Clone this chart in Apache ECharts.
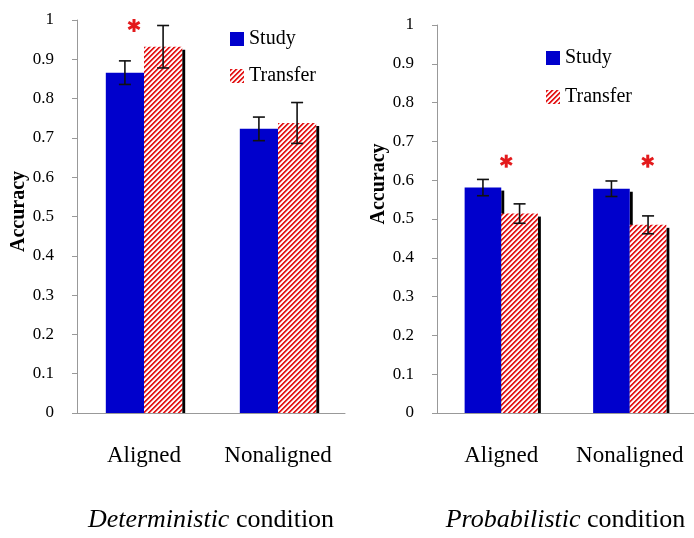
<!DOCTYPE html>
<html>
<head>
<meta charset="utf-8">
<script src="https://cdn.jsdelivr.net/npm/echarts@6/dist/echarts.min.js"></script>
<style>
html, body { margin: 0; padding: 0; background: #fff; }
#chart { width: 694px; height: 538px; }
</style>
</head>
<body>
<div id="chart"></div>
<script>
// categories and values
var categories = ['Aligned', 'Nonaligned'];

var detStudy = [0.866, 0.723];
var detStudyErr = [0.030, 0.030];
var detTransfer = [0.932, 0.738];
var detTransferErr = [0.054, 0.052];

var probStudy = [0.581, 0.578];
var probStudyErr = [0.021, 0.020];
var probTransfer = [0.514, 0.485];
var probTransferErr = [0.025, 0.023];

// significance asterisks: [category index, height]
var detStars = [[0, 0.986]];
var probStars = [[0, 0.649], [1, 0.649]];

var BLUE = '#0000CC';
var RED = '#E31A1C';
var BAR_FRAC = 0.285;
var FONT = 'Liberation Serif';

// red/white diagonal hatch
function makeHatch() {
    var c = document.createElement('canvas');
    c.width = 10; c.height = 10;
    var ctx = c.getContext('2d');
    var cols = [RED, RED, '#f3a3a3', '#ffffff', '#fde4e4'];
    for (var x = 0; x < 10; x++) {
        for (var y = 0; y < 10; y++) {
            ctx.fillStyle = cols[(x + y) % 5];
            ctx.fillRect(x, y, 1, 1);
        }
    }
    return c;
}
var hatch = { image: makeHatch(), repeat: 'repeat' };

function barX(api, slot) {
    var c = api.coord([api.value(0), api.value(1)]);
    var bw = api.size([1, 0])[0] * BAR_FRAC;
    return { cx: c[0], top: c[1], bw: bw, x: c[0] + slot * bw / 2 };
}

function shadowSeries(grid, vals, slot) {
    return {
        type: 'custom', xAxisIndex: grid, yAxisIndex: grid, z: 1, silent: true,
        data: vals.map(function (v, i) { return [i, v]; }),
        renderItem: function (params, api) {
            var b = barX(api, slot);
            var base = api.coord([api.value(0), 0])[1];
            var right = b.x + b.bw / 2;
            return {
                type: 'rect',
                shape: { x: right, y: b.top + 3, width: 3, height: base - b.top - 3 },
                style: { fill: '#000' }
            };
        }
    };
}

function errorSeries(grid, vals, errs, slot) {
    return {
        type: 'custom', xAxisIndex: grid, yAxisIndex: grid, z: 4, silent: true,
        data: vals.map(function (v, i) { return [i, v, errs[i]]; }),
        renderItem: function (params, api) {
            var b = barX(api, slot);
            var x = b.x;
            var hi = api.coord([api.value(0), api.value(1) + api.value(2)])[1];
            var lo = api.coord([api.value(0), api.value(1) - api.value(2)])[1];
            var cap = 6;
            var st = { stroke: '#111', lineWidth: 1.6 };
            return {
                type: 'group', children: [
                    { type: 'line', shape: { x1: x, y1: hi, x2: x, y2: lo }, style: st },
                    { type: 'line', shape: { x1: x - cap, y1: hi, x2: x + cap, y2: hi }, style: st },
                    { type: 'line', shape: { x1: x - cap, y1: lo, x2: x + cap, y2: lo }, style: st }
                ]
            };
        }
    };
}

function starSeries(grid, stars, dx) {
    return {
        type: 'custom', xAxisIndex: grid, yAxisIndex: grid, z: 4, silent: true,
        data: stars,
        renderItem: function (params, api) {
            var c = api.coord([api.value(0), api.value(1)]);
            var x = c[0] + dx[params.dataIndex], y = c[1];
            var r = 6.5, kids = [];
            for (var a = 0; a < 3; a++) {
                var ang = Math.PI / 2 + a * Math.PI / 3;
                kids.push({
                    type: 'line',
                    shape: { x1: x - r * Math.cos(ang), y1: y - r * Math.sin(ang), x2: x + r * Math.cos(ang), y2: y + r * Math.sin(ang) },
                    style: { stroke: RED, lineWidth: 3 }
                });
            }
            return { type: 'group', children: kids };
        }
    };
}

function xAxis(grid, italicWord) {
    return {
        type: 'category', gridIndex: grid, data: categories,
        axisLine: { lineStyle: { color: '#999' } },
        axisTick: { length: 8, lineStyle: { color: '#999' } },
        axisLabel: { interval: 0, hideOverlap: false, fontSize: 23, color: '#000', margin: 31, fontFamily: FONT },
        name: '{i|' + italicWord + '} condition',
        nameLocation: 'middle', nameGap: 94,
        nameTextStyle: {
            fontSize: 26, color: '#000', fontFamily: FONT,
            rich: { i: { fontSize: 26, fontStyle: 'italic', color: '#000', fontFamily: FONT } }
        }
    };
}

function yAxis(grid, namePad) {
    return {
        type: 'value', gridIndex: grid, min: 0, max: 1, interval: 0.1,
        splitLine: { show: false },
        axisLine: { show: true, lineStyle: { color: '#999' } },
        axisTick: { show: true, length: 5, lineStyle: { color: '#999' } },
        axisLabel: { fontSize: 17, color: '#000', margin: 23, fontFamily: FONT },
        name: 'Accuracy', nameLocation: 'middle', nameRotate: 90, nameGap: 44,
        nameTextStyle: { fontSize: 20, fontWeight: 'bold', color: '#000', fontFamily: FONT, padding: namePad }
    };
}

function legend(left, top, gap) {
    return {
        orient: 'vertical', left: left, top: top, padding: 0,
        itemWidth: 14, itemHeight: 14, itemGap: gap,
        selectedMode: false,
        data: [{ name: 'Study', icon: 'rect' }, { name: 'Transfer', icon: 'rect' }],
        textStyle: { fontSize: 20, color: '#000', fontFamily: FONT }
    };
}

function bars(grid, name, vals, color) {
    return {
        type: 'bar', name: name, xAxisIndex: grid, yAxisIndex: grid, data: vals,
        barWidth: (BAR_FRAC * 100) + '%', barGap: '0%', z: 2,
        itemStyle: { color: color }
    };
}

var chart = echarts.init(document.getElementById('chart'));
chart.setOption({
    animation: false,
    textStyle: { fontFamily: FONT },
    legend: [legend(230, 29, 17), legend(546, 48, 19)],
    grid: [
        { left: 77, right: 349, top: 20, bottom: 117 },
        { left: 437, right: -5, top: 25, bottom: 117 }
    ],
    xAxis: [xAxis(0, 'Deterministic'), xAxis(1, 'Probabilistic')],
    yAxis: [yAxis(0, [0, 0, 0, 10]), yAxis(1, [0, 0, 0, 70])],
    series: [
        shadowSeries(0, detStudy, -1),
        shadowSeries(0, detTransfer, 1),
        bars(0, 'Study', detStudy, BLUE),
        bars(0, 'Transfer', detTransfer, hatch),
        errorSeries(0, detStudy, detStudyErr, -1),
        errorSeries(0, detTransfer, detTransferErr, 1),
        starSeries(0, detStars, [-10]),

        shadowSeries(1, probStudy, -1),
        shadowSeries(1, probTransfer, 1),
        bars(1, 'Study', probStudy, BLUE),
        bars(1, 'Transfer', probTransfer, hatch),
        errorSeries(1, probStudy, probStudyErr, -1),
        errorSeries(1, probTransfer, probTransferErr, 1),
        starSeries(1, probStars, [5, 18])
    ]
});
</script>
</body>
</html>
